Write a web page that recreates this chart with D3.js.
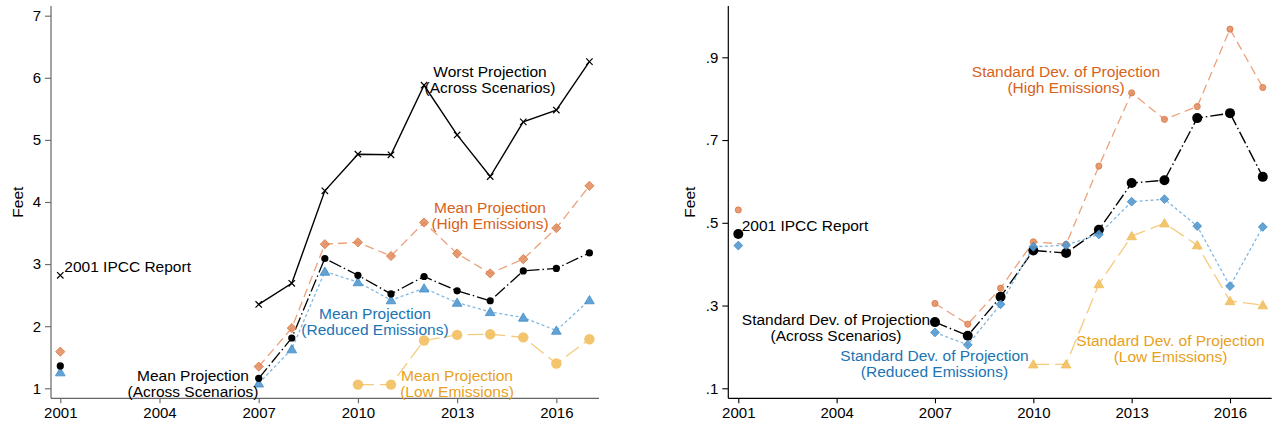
<!DOCTYPE html>
<html>
<head>
<meta charset="utf-8">
<script src="https://cdn.jsdelivr.net/npm/d3@7"></script>
<style>
  html, body { margin: 0; padding: 0; background: #fff; }
  svg { display: block; font-family: "Liberation Sans", Arial, Helvetica, sans-serif; }
</style>
</head>
<body>
<svg id="chart" width="1282" height="428"></svg>
<script>
// ---- Data ----------------------------------------------------------------
const ipccYear = 2001;
const years = [2007, 2008, 2009, 2010, 2011, 2012, 2013, 2014, 2015, 2016, 2017];
const lowYears = [2010, 2011, 2012, 2013, 2014, 2015, 2016, 2017];
const xTickYears = [2001, 2004, 2007, 2010, 2013, 2016];

// Left panel: projected sea-level rise (feet)
const worstIpcc = 2.82;
const worstProjection = [2.35, 2.69, 4.18, 4.77, 4.76, 5.88, 5.08, 4.41, 5.29, 5.48, 6.26];
const meanHighIpcc = 1.59;
const meanHigh = [1.35, 1.97, 3.32, 3.35, 3.13, 3.67, 3.17, 2.85, 3.08, 3.58, 4.26];
const meanAcrossIpcc = 1.36;
const meanAcross = [1.16, 1.81, 3.09, 2.82, 2.52, 2.80, 2.57, 2.41, 2.89, 2.93, 3.18];
const meanReducedIpcc = 1.26;
const meanReduced = [1.08, 1.63, 2.88, 2.71, 2.42, 2.61, 2.38, 2.23, 2.14, 1.93, 2.42];
const meanLow = [1.06, 1.06, 1.77, 1.86, 1.87, 1.82, 1.40, 1.79];
const leftYTicks = [1, 2, 3, 4, 5, 6, 7];

// Right panel: standard deviation of projections (feet)
const sdHighIpcc = 0.531;
const sdHigh = [0.305, 0.255, 0.342, 0.454, 0.448, 0.637, 0.814, 0.750, 0.781, 0.968, 0.827];
const sdAcrossIpcc = 0.473;
const sdAcross = [0.260, 0.227, 0.321, 0.433, 0.427, 0.483, 0.596, 0.603, 0.753, 0.765, 0.611];
const sdReducedIpcc = 0.445;
const sdReduced = [0.235, 0.205, 0.303, 0.442, 0.446, 0.472, 0.551, 0.557, 0.492, 0.347, 0.490];
const sdLow = [0.158, 0.158, 0.352, 0.468, 0.499, 0.446, 0.311, 0.301];
const rightYTicks = [0.1, 0.3, 0.5, 0.7, 0.9];
const rightYTickLabels = [".1", ".3", ".5", ".7", ".9"];

// ---- Styles --------------------------------------------------------------
const C = {
  black: "#000",
  orangeText: "#d8621a", orangeMark: "#e0895a", orangeLine: "#eba27c",
  blueText: "#1a74b5", blueMark: "#5499cf", blueLine: "#82b8e2",
  yellowText: "#e9a11c", yellowMark: "#f2c266", yellowLine: "#f4cb7d"
};
const FONT = 15.5;
const TICKFONT = 15;

const svg = d3.select("#chart");
svg.append("rect").attr("width", 1282).attr("height", 428).attr("fill", "#fff");

function zip(xs, ys) { return xs.map((x, i) => ({ x, y: ys[i] })); }

function panel(opts) {
  const g = svg.append("g");
  const x = d3.scaleLinear().domain(opts.xDomain).range([opts.left, opts.right]);
  const y = d3.scaleLinear().domain(opts.yDomain).range([opts.bottom, opts.top]);

  // axes
  const yAxis = d3.axisLeft(y).tickValues(opts.yTicks).tickSize(6).tickPadding(4)
    .tickFormat((d, i) => opts.yTickLabels ? opts.yTickLabels[i] : d3.format("d")(d));
  const ya = g.append("g").attr("transform", `translate(${opts.left},0)`).call(yAxis);
  const xAxis = d3.axisBottom(x).tickValues(xTickYears).tickSize(5).tickPadding(4).tickFormat(d3.format("d"));
  const xa = g.append("g").attr("transform", `translate(0,${opts.bottom})`).call(xAxis);
  [ya, xa].forEach(a => {
    a.select(".domain").attr("stroke", opts.axisColor).attr("stroke-width", 1.2)
      .attr("d", null);
    a.selectAll(".tick line").attr("stroke", opts.axisColor).attr("stroke-width", 1.1);
    a.selectAll(".tick text").attr("fill", "#000").style("font-size", TICKFONT + "px")
      .style("font-family", "'Liberation Sans', Arial, sans-serif");
  });
  g.append("line").attr("x1", opts.left).attr("x2", opts.left).attr("y1", opts.top).attr("y2", opts.bottom)
    .attr("stroke", opts.axisColor).attr("stroke-width", 1.2);
  g.append("line").attr("x1", opts.left).attr("x2", opts.right).attr("y1", opts.bottom).attr("y2", opts.bottom)
    .attr("stroke", opts.axisColor).attr("stroke-width", 1.2);

  g.append("text").attr("transform", `translate(${opts.titleX},${(opts.top + opts.bottom) / 2}) rotate(-90)`)
    .attr("text-anchor", "middle").attr("dy", "0.35em").style("font-size", FONT + "px").text("Feet");

  const line = d3.line().x(d => x(d.x)).y(d => y(d.y));
  return { g, x, y, line };
}

function series(P, pts, lineStyle, marker) {
  P.g.append("path").datum(pts).attr("d", P.line).attr("fill", "none")
    .attr("stroke", lineStyle.color).attr("stroke-width", lineStyle.width || 1.3)
    .attr("stroke-dasharray", lineStyle.dash || null);
}

function markers(P, pts, m) {
  const sel = P.g.append("g").selectAll("g").data(pts).join("g")
    .attr("transform", d => `translate(${P.x(d.x)},${P.y(d.y)})`);
  if (m.type === "circle") {
    sel.append("circle").attr("r", m.size).attr("fill", m.fill).attr("fill-opacity", m.opacity || 1)
      .attr("stroke", m.stroke || "none").attr("stroke-width", 0.8);
  } else if (m.type === "diamond") {
    const s = m.size;
    sel.append("path").attr("d", `M0,${-s}L${s},0L0,${s}L${-s},0Z`).attr("fill", m.fill)
      .attr("fill-opacity", m.opacity || 1).attr("stroke", m.stroke).attr("stroke-width", 0.8);
  } else if (m.type === "triangle") {
    const s = m.size;
    sel.append("path").attr("d", `M0,${-s}L${s * 1.05},${s * 0.8}L${-s * 1.05},${s * 0.8}Z`).attr("fill", m.fill)
      .attr("fill-opacity", m.opacity || 1).attr("stroke", m.stroke).attr("stroke-width", 0.8);
  } else if (m.type === "x") {
    const s = m.size;
    sel.append("path").attr("d", `M${-s},${-s}L${s},${s}M${-s},${s}L${s},${-s}`)
      .attr("stroke", m.stroke).attr("stroke-width", 1.2).attr("fill", "none");
  }
}

function label(P, cx, baseline, lines, color, anchor) {
  const t = P.g.append("text").attr("text-anchor", anchor || "middle").attr("fill", color)
    .style("font-size", FONT + "px");
  lines.forEach((s, i) => {
    t.append("tspan").attr("x", cx).attr("y", baseline + i * 16).text(s);
  });
}

// ---- Left panel: projections ----------------------------------------------
const L = panel({
  left: 51, right: 599, top: 6, bottom: 398.3,
  xDomain: [2000.719, 2017.29], yDomain: [0.839, 7.156],
  yTicks: leftYTicks, axisColor: "#666", titleX: 17.5
});

const mHigh = { type: "diamond", size: 4.6, fill: C.orangeMark, stroke: "#d9773f", opacity: 0.85 };
const mAcross = { type: "circle", size: 3.6, fill: "#000" };
const mReduced = { type: "triangle", size: 4.6, fill: C.blueMark, stroke: "#3f8cc6", opacity: 0.9 };
const mLowL = { type: "circle", size: 5.2, fill: C.yellowMark, opacity: 0.95 };
const mWorst = { type: "x", size: 3.2, stroke: "#000" };

series(L, zip(years, worstProjection), { color: "#000", width: 1.4 });
series(L, zip(years, meanHigh), { color: C.orangeLine, width: 1.3, dash: "9,5" });
series(L, zip(years, meanAcross), { color: "#000", width: 1.3, dash: "13,3,1.5,3" });
series(L, zip(years, meanReduced), { color: C.blueLine, width: 1.3, dash: "3,2.5" });
series(L, zip(lowYears, meanLow), { color: C.yellowLine, width: 1.3, dash: "16,6" });

markers(L, zip([ipccYear], [worstIpcc]).concat(zip(years, worstProjection)), mWorst);
markers(L, zip([ipccYear], [meanHighIpcc]).concat(zip(years, meanHigh)), mHigh);
markers(L, zip([ipccYear], [meanReducedIpcc]).concat(zip(years, meanReduced)), mReduced);
markers(L, zip([ipccYear], [meanAcrossIpcc]).concat(zip(years, meanAcross)), mAcross);
markers(L, zip(lowYears, meanLow), mLowL);

label(L, 64.3, 271.5, ["2001 IPCC Report"], "#000", "start");
label(L, 490, 76.5, ["Worst Projection", "(Across Scenarios)"], "#000");
label(L, 490, 213.3, ["Mean Projection", "(High Emissions)"], C.orangeText);
label(L, 193, 380.7, ["Mean Projection", "(Across Scenarios)"], "#000");
label(L, 375, 319.3, ["Mean Projection", "(Reduced Emissions)"], C.blueText);
label(L, 457, 380.7, ["Mean Projection", "(Low Emissions)"], C.yellowText);

// ---- Right panel: dispersion of projections --------------------------------
const R = panel({
  left: 728.3, right: 1271.7, top: 6, bottom: 398.3,
  xDomain: [2000.695, 2017.272], yDomain: [0.0758, 1.024],
  yTicks: rightYTicks, yTickLabels: rightYTickLabels, axisColor: "#000", titleX: 690
});

const rHigh = { type: "circle", size: 3.1, fill: C.orangeMark, stroke: "#db7a45", opacity: 0.85 };
const rAcross = { type: "circle", size: 5, fill: "#000" };
const rReduced = { type: "diamond", size: 4.4, fill: C.blueMark, stroke: "#3f8cc6", opacity: 0.9 };
const rLow = { type: "triangle", size: 4.6, fill: C.yellowMark, stroke: "#efbb58", opacity: 0.95 };

series(R, zip(years, sdHigh), { color: C.orangeLine, width: 1.3, dash: "9,5" });
series(R, zip(years, sdAcross), { color: "#000", width: 1.4, dash: "13,3,1.5,3" });
series(R, zip(years, sdReduced), { color: C.blueLine, width: 1.3, dash: "3,2.5" });
series(R, zip(lowYears, sdLow), { color: C.yellowLine, width: 1.3, dash: "16,6" });

markers(R, zip([ipccYear], [sdHighIpcc]).concat(zip(years, sdHigh)), rHigh);
markers(R, zip([ipccYear], [sdAcrossIpcc]).concat(zip(years, sdAcross)), rAcross);
markers(R, zip([ipccYear], [sdReducedIpcc]).concat(zip(years, sdReduced)), rReduced);
markers(R, zip(lowYears, sdLow), rLow);

label(R, 741.7, 230.7, ["2001 IPCC Report"], "#000", "start");
label(R, 1066, 76.7, ["Standard Dev. of Projection", "(High Emissions)"], C.orangeText);
label(R, 836, 325, ["Standard Dev. of Projection", "(Across Scenarios)"], "#000");
label(R, 934.5, 360.7, ["Standard Dev. of Projection", "(Reduced Emissions)"], C.blueText);
label(R, 1170.5, 346, ["Standard Dev. of Projection", "(Low Emissions)"], C.yellowText);
</script>
</body>
</html>
